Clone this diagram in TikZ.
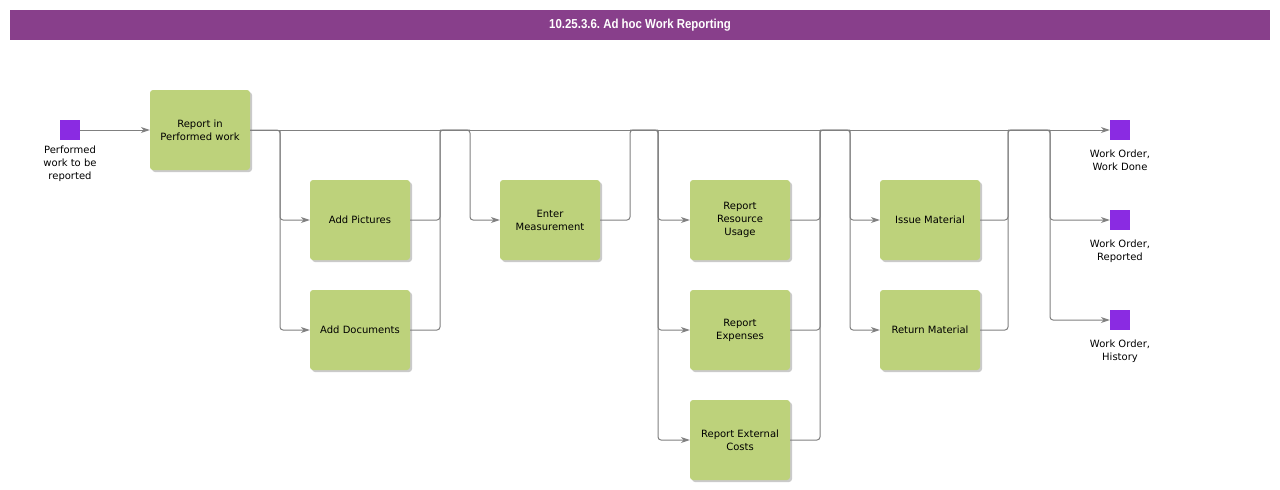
\documentclass[tikz,border=0pt]{standalone}
\usepackage{fontspec}
\setmainfont{DejaVu Sans}
\newfontfamily\titlefont[FakeStretch=0.88]{Liberation Sans}
\usetikzlibrary{positioning,arrows.meta,shadows}
\definecolor{barpurple}{HTML}{883F8B}
\definecolor{taskgreen}{HTML}{BDD27B}
\definecolor{statepurple}{HTML}{8A2BE2}
\definecolor{wiregray}{HTML}{808080}
\frenchspacing

\begin{document}
\begin{tikzpicture}[
  x=1pt,y=-1pt,
  task/.style={fill=taskgreen,rounded corners=3pt,minimum width=100pt,minimum height=80pt,
    align=center,font=\fontsize{10}{13}\selectfont,
    drop shadow={shadow xshift=2pt,shadow yshift=-2pt,fill=black!35,opacity=0.6}},
  state/.style={fill=statepurple,minimum size=20pt,inner sep=0pt},
  lbl/.style={anchor=north,align=center,inner sep=0pt,font=\fontsize{10}{13}\selectfont},
  wire/.style={draw=wiregray,line width=1pt,rounded corners=3pt},
  arr/.style={wire,-{Stealth[length=9pt,width=6pt]}}]
\useasboundingbox (0,0) rectangle (1280,490);
\node[fill=barpurple,minimum width=1260pt,minimum height=30pt,text=white,
  font=\titlefont\bfseries\fontsize{13}{15}\selectfont] (title) at (640,25) {10.25.3.6. Ad hoc Work Reporting};
\node[state] (start) at (70,130) {};
\node[lbl] (startlbl) at (70,146) {Performed\\work to be\\reported};
\node[task] (rep) at (200,130) {Report in\\Performed work};
\node[task] (pic) at (360,220) {Add Pictures};
\node[task] (doc) at (360,330) {Add Documents};
\node[task] (meas) at (550,220) {Enter\\Measurement};
\node[task] (res) at (740,220) {Report\\Resource\\Usage};
\node[task] (exp) at (740,330) {Report\\Expenses};
\node[task] (ext) at (740,440) {Report External\\Costs};
\node[task] (iss) at (930,220) {Issue Material};
\node[task] (ret) at (930,330) {Return Material};
\node[state] (done) at (1120,130) {};
\node[lbl] (donelbl) at (1120,150) {Work Order,\\Work Done};
\node[state] (rptd) at (1120,220) {};
\node[lbl] (rptdlbl) at (1120,240) {Work Order,\\Reported};
\node[state] (hist) at (1120,320) {};
\node[lbl] (histlbl) at (1120,340) {Work Order,\\History};
\coordinate (s1) at (280,130);
\coordinate (m1) at (440,130);
\coordinate (s2) at (470,130);
\coordinate (m2) at (630,130);
\coordinate (s3) at (658,130);
\coordinate (m3) at (820,130);
\coordinate (s4) at (850,130);
\coordinate (m4) at (1008,130);
\coordinate (s5) at (1050,130);
\draw[arr] (start) -- (rep);
\draw[arr] (rep) -- (done);
\draw[arr] (rep.east) -- (s1) |- (pic.west);
\draw[arr] (s1) |- (doc.west);
\draw[wire] (pic.east) -| (m1) -- (s2);
\draw[wire] (doc.east) -| (m1);
\draw[arr] (m1) -- (s2) |- (meas.west);
\draw[wire] (meas.east) -| (m2) -- (s3);
\draw[arr] (m2) -- (s3) |- (res.west);
\draw[arr] (s3) |- (exp.west);
\draw[arr] (s3) |- (ext.west);
\draw[wire] (res.east) -| (m3) -- (s4);
\draw[wire] (exp.east) -| (m3);
\draw[wire] (ext.east) -| (m3);
\draw[arr] (m3) -- (s4) |- (iss.west);
\draw[arr] (s4) |- (ret.west);
\draw[wire] (iss.east) -| (m4) -- (s5);
\draw[wire] (ret.east) -| (m4);
\draw[arr] (m4) -- (s5) |- (rptd.west);
\draw[arr] (s5) |- (hist.west);
\end{tikzpicture}
\end{document}
